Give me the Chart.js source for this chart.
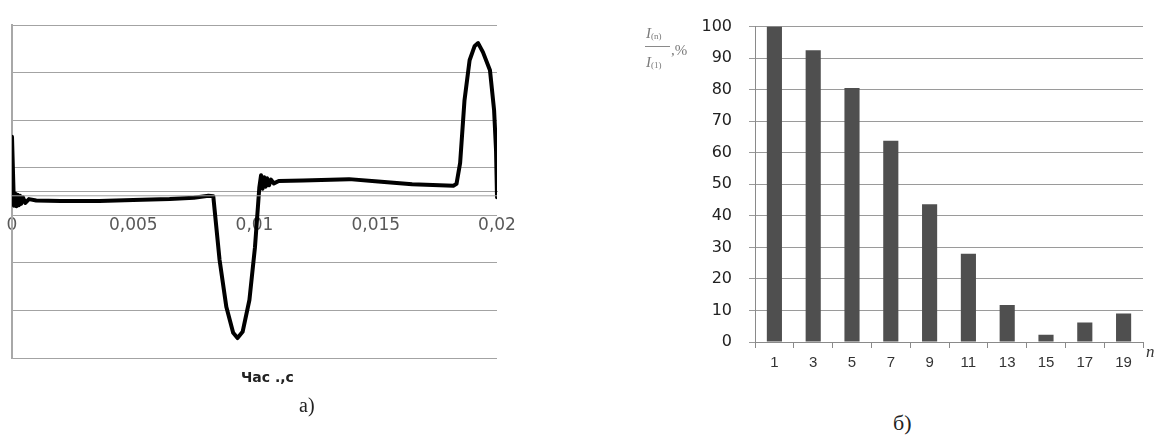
<!DOCTYPE html>
<html>
<head>
<meta charset="utf-8">
<script src="https://cdn.jsdelivr.net/npm/chart.js@4.4.0/dist/chart.umd.min.js"></script>
<style>
html, body { margin: 0; padding: 0; background: #fff; }
#wrap { position: relative; width: 1164px; height: 437px; overflow: hidden; background: #fff; }
canvas { position: absolute; }
.txt { position: absolute; white-space: nowrap; line-height: 1; }
.frac { font-family: "Liberation Serif", serif; font-size: 15px; color: #7a7a7a; }
.frac sub { font-size: 9px; vertical-align: -1px; }
</style>
</head>
<body>
<div id="wrap">
  <canvas id="wave" style="left:0px;top:0px" width="520" height="410"></canvas>
  <canvas id="harm" style="left:620px;top:0px" width="544" height="400"></canvas>

  <div class="txt" style="left:241px;top:369px;font:bold 14px 'DejaVu Sans',sans-serif;color:#222">Час .,с</div>
  <div class="txt" style="left:299px;top:394px;font:20px 'Liberation Serif',serif;color:#222">а)</div>
  <div class="txt" style="left:893px;top:410px;font:22px 'Liberation Serif',serif;color:#222">б)</div>
  <div class="txt" style="left:1146px;top:342px;font:italic 17px 'Liberation Serif',serif;color:#333">n</div>

  <div class="txt frac" style="left:646px;top:26px"><i>I</i><sub>(n)</sub></div>
  <div style="position:absolute;left:645px;top:46px;width:25px;height:1px;background:#8a8a8a"></div>
  <div class="txt frac" style="left:646px;top:55px"><i>I</i><sub>(1)</sub></div>
  <div class="txt frac" style="left:671px;top:43px">,%</div>
</div>

<script>
// a) current waveform over one period (arbitrary units)
var waveTime = [0, 0.00008, 0.00013, 0.00018, 0.00023, 0.00028, 0.00033, 0.00038, 0.00045, 0.00055,
   0.0007, 0.001, 0.002, 0.0036, 0.005, 0.0065, 0.0075, 0.0081, 0.0083, 0.00856,
   0.00884, 0.00912, 0.0093, 0.00951, 0.00979, 0.01002, 0.0102, 0.01027, 0.01033, 0.0104,
   0.01046, 0.01052, 0.0106, 0.01068, 0.0108, 0.011, 0.012, 0.0139, 0.0151, 0.0165,
   0.0182, 0.01833, 0.01848, 0.01866, 0.01887, 0.01908, 0.01922, 0.01942, 0.01971, 0.01988,
   0.01996, 0.02];
var waveCurrent = [11.5, -3.0, -0.4, -3.1, -0.7, -2.9, -0.9, -2.6, -1.2, -2.4,
   -1.6, -1.9, -2.0, -2.0, -1.8, -1.6, -1.3, -0.9, -1.0, -14.4,
   -24.3, -29.7, -30.8, -29.5, -22.8, -11.7, 0.9, 3.4, 0.6, 3.0,
   1.0, 2.8, 1.3, 2.5, 1.7, 2.2, 2.3, 2.6, 2.1, 1.5,
   1.2, 1.6, 6.0, 19.2, 27.6, 30.6, 31.2, 29.3, 25.5, 17.1,
   8.7, -1.2];
var refTime = [0, 0.02];
var refLevel = [-0.9, -0.9];
var timeTicks = [0, 0.005, 0.01, 0.015, 0.02];

// б) harmonic spectrum, % of fundamental
var harmonicOrders = ['1', '3', '5', '7', '9', '11', '13', '15', '17', '19'];
var harmonicPercent = [100, 92.5, 80.5, 63.8, 43.7, 28.0, 11.7, 2.3, 6.2, 9.0];

var toPoints = function (xs, ys) {
   return xs.map(function (x, i) { return { x: x, y: ys[i] }; });
};

new Chart(document.getElementById('wave').getContext('2d'), {
   type: 'line',
   data: {
      datasets: [{
         data: toPoints(refTime, refLevel),
         borderColor: '#a0a0a0',
         borderWidth: 1,
         pointRadius: 0
      }, {
         data: toPoints(waveTime, waveCurrent),
         borderColor: '#000',
         borderWidth: 4,
         borderJoinStyle: 'round',
         borderCapStyle: 'round',
         pointRadius: 0,
         tension: 0
      }]
   },
   options: {
      responsive: false,
      animation: false,
      layout: { padding: { left: 12, top: 25, right: 23, bottom: 52 } },
      plugins: { legend: { display: false }, tooltip: { enabled: false } },
      scales: {
         x: {
            type: 'linear',
            min: 0,
            max: 0.02,
            position: { y: 0 },
            afterFit: function (s) { s.height = 40; s.paddingLeft = 0; s.paddingRight = 0; },
            afterBuildTicks: function (s) {
               s.ticks = timeTicks.map(function (v) { return { value: v }; });
            },
            ticks: {
               autoSkip: false,
               maxRotation: 0,
               padding: 16,
               color: '#595959',
               font: { family: 'DejaVu Sans', size: 17 },
               callback: function (v) { return String(v).replace('.', ','); }
            },
            grid: { display: false },
            border: { display: true, color: '#a0a0a0', width: 1 }
         },
         y: {
            min: -35,
            max: 35,
            ticks: { display: false, stepSize: 10 },
            grid: { color: '#a3a3a3', drawTicks: false },
            border: { display: true, color: '#a8a8a8', width: 2 }
         }
      }
   }
});

new Chart(document.getElementById('harm').getContext('2d'), {
   type: 'bar',
   data: {
      labels: harmonicOrders,
      datasets: [{
         data: harmonicPercent,
         backgroundColor: '#4f4f4f',
         borderWidth: 0,
         barPercentage: 0.39,
         categoryPercentage: 1
      }]
   },
   options: {
      responsive: false,
      animation: false,
      layout: { padding: { left: 75, top: 19, right: 21, bottom: 28 } },
      plugins: { legend: { display: false }, tooltip: { enabled: false } },
      scales: {
         x: {
            afterFit: function (s) { s.height = 30; },
            ticks: {
               padding: 6,
               color: '#333',
               font: { family: '"Liberation Sans Narrow", "Liberation Sans", sans-serif', size: 15 }
            },
            grid: { drawOnChartArea: false, drawTicks: true, tickLength: 6, color: '#8a8a8a' },
            border: { color: '#8a8a8a' }
         },
         y: {
            min: 0,
            max: 100,
            afterFit: function (s) { s.width = 60; },
            ticks: {
               stepSize: 10,
               padding: 17,
               color: '#222',
               font: { family: 'DejaVu Sans', size: 16 }
            },
            grid: { color: '#9a9a9a', tickLength: 6 },
            border: { color: '#8a8a8a' }
         }
      }
   }
});
</script>
</body>
</html>
